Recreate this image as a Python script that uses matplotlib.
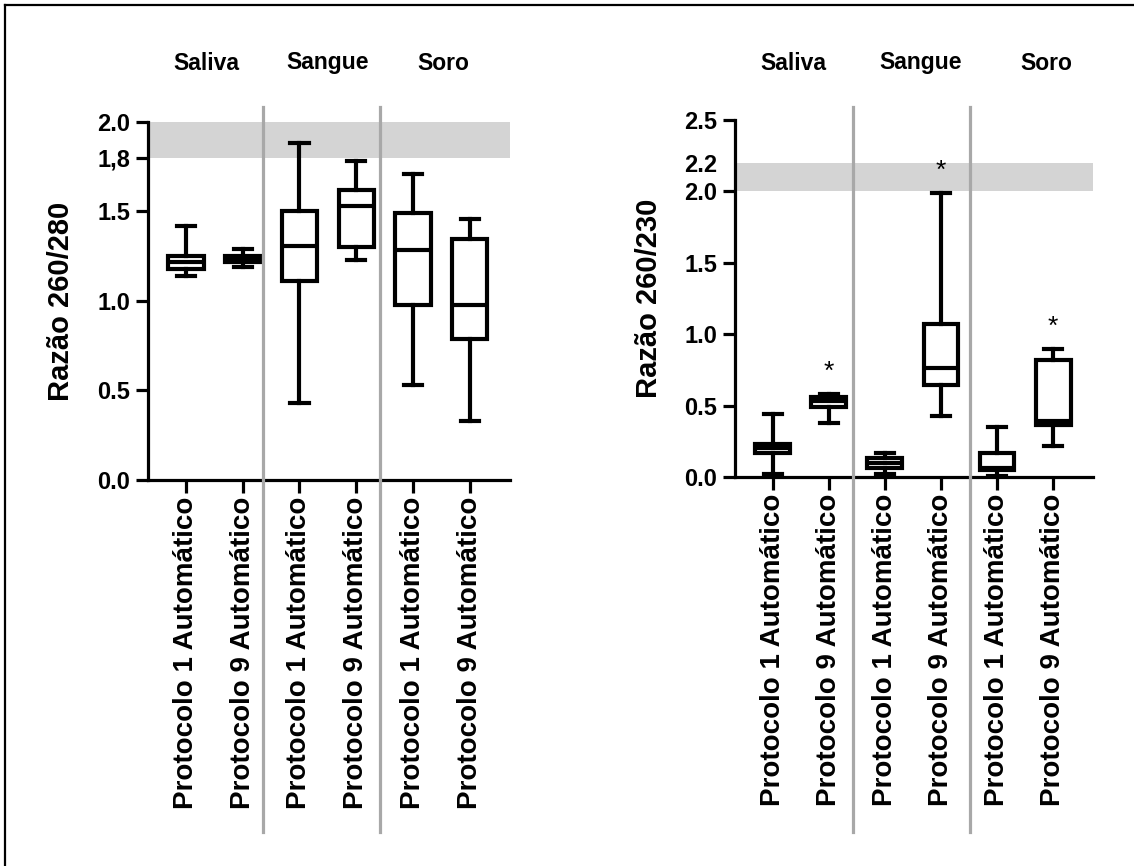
import matplotlib.pyplot as plt
from matplotlib.lines import Line2D
from matplotlib.transforms import blended_transform_factory

plt.rcParams["font.family"] = ["Liberation Sans", "DejaVu Sans"]
plt.rcParams["font.weight"] = "bold"

GROUPS = ["Saliva", "Sangue", "Soro"]
CATEGORIES = [
    "Protocolo 1 Automático", "Protocolo 9 Automático",
    "Protocolo 1 Automático", "Protocolo 9 Automático",
    "Protocolo 1 Automático", "Protocolo 9 Automático",
]

# Razao 260/280: min, q1, median, q3, max
r280_min = [1.14, 1.19, 0.43, 1.23, 0.53, 0.33]
r280_q1 = [1.18, 1.22, 1.11, 1.30, 0.98, 0.79]
r280_med = [1.22, 1.235, 1.31, 1.53, 1.285, 0.98]
r280_q3 = [1.25, 1.25, 1.50, 1.62, 1.49, 1.345]
r280_max = [1.42, 1.29, 1.885, 1.78, 1.71, 1.46]

# Razao 260/230
r230_min = [0.02, 0.38, 0.02, 0.43, 0.01, 0.22]
r230_q1 = [0.17, 0.49, 0.06, 0.645, 0.05, 0.365]
r230_med = [0.20, 0.53, 0.10, 0.76, 0.065, 0.39]
r230_q3 = [0.23, 0.56, 0.13, 1.07, 0.17, 0.82]
r230_max = [0.44, 0.58, 0.17, 1.99, 0.35, 0.895]
r230_star = [False, True, False, True, False, True]

FIG_W, FIG_H = 1134, 866
fig = plt.figure(figsize=(FIG_W / 100, FIG_H / 100), dpi=100)


def fy(px):
    return 1 - px / FIG_H


def make_stats(mins, q1s, meds, q3s, maxs):
    return [
        dict(whislo=a, q1=b, med=c, q3=d, whishi=e, fliers=[])
        for a, b, c, d, e in zip(mins, q1s, meds, q3s, maxs)
    ]


def draw_panel(rect, stats, ylim, yticks, ylabels, ylabel, band, seps, head_x):
    ax = fig.add_axes(rect)
    ax.axhspan(band[0], band[1], color="#d4d4d4", lw=0, zorder=0)
    ax.bxp(
        stats,
        positions=range(len(stats)),
        widths=0.62,
        capwidths=0.32,
        showfliers=False,
        patch_artist=True,
        boxprops=dict(facecolor="white", edgecolor="black", linewidth=3),
        whiskerprops=dict(color="black", linewidth=3),
        capprops=dict(color="black", linewidth=3),
        medianprops=dict(color="black", linewidth=3),
        zorder=3,
    )
    ax.set_ylim(*ylim)
    ax.set_xlim(-0.67, 5.71)
    ax.set_yticks(yticks)
    ax.set_yticklabels(ylabels)
    ax.set_xticks(range(len(CATEGORIES)))
    ax.set_xticklabels(CATEGORIES, rotation=90)
    for s in ["top", "right"]:
        ax.spines[s].set_visible(False)
    for s in ["left", "bottom"]:
        ax.spines[s].set_linewidth(2.3)
    ax.tick_params(length=9, width=2.3, labelsize=17, pad=4)
    ax.tick_params(axis="x", labelsize=20, pad=3)
    ax.set_ylabel(ylabel, fontsize=21, fontweight="bold")
    ax.yaxis.set_label_coords(-0.201, 0.5)

    tr = blended_transform_factory(ax.transData, fig.transFigure)
    for x in seps:
        fig.add_artist(Line2D([x, x], [fy(107), fy(832)], transform=tr,
                              color="#a8a8a8", lw=2.3, zorder=1))
    for name, x in zip(GROUPS, head_x):
        ax.text(x, fy(63), name, transform=tr, ha="center", va="center",
                fontsize=16.5, fontweight="bold")
    return ax


ax1 = draw_panel(
    [148 / FIG_W, fy(480), 362 / FIG_W, 358 / FIG_H],
    make_stats(r280_min, r280_q1, r280_med, r280_q3, r280_max),
    (0, 2.0),
    [0.0, 0.5, 1.0, 1.5, 1.8, 2.0],
    ["0.0", "0.5", "1.0", "1.5", "1,8", "2.0"],
    "Razão 260/280",
    (1.8, 2.0),
    [1.36, 3.42],
    [0.35, 2.5, 4.53],
)

ax2 = draw_panel(
    [735 / FIG_W, fy(477), 358 / FIG_W, 357 / FIG_H],
    make_stats(r230_min, r230_q1, r230_med, r230_q3, r230_max),
    (0, 2.5),
    [0.0, 0.5, 1.0, 1.5, 2.0, 2.2, 2.5],
    ["0.0", "0.5", "1.0", "1.5", "2.0", "2.2", "2.5"],
    "Razão 260/230",
    (2.0, 2.2),
    [1.44, 3.52],
    [0.37, 2.63, 4.87],
)
ax2.yaxis.get_major_ticks()[5].tick1line.set_visible(False)

for i, (flag, top) in enumerate(zip(r230_star, r230_max)):
    if flag:
        ax2.text(i, top + 0.155, "*", ha="center", va="center",
                 fontsize=19, fontweight="normal", zorder=4)

# frame lines (top and left only, rest is cropped)
fig.add_artist(Line2D([5 / FIG_W, 1], [fy(5), fy(5)], color="black", lw=1.6))
fig.add_artist(Line2D([5 / FIG_W, 5 / FIG_W], [0, fy(5)], color="black", lw=1.6))

fig.savefig("out.png", dpi=100)
